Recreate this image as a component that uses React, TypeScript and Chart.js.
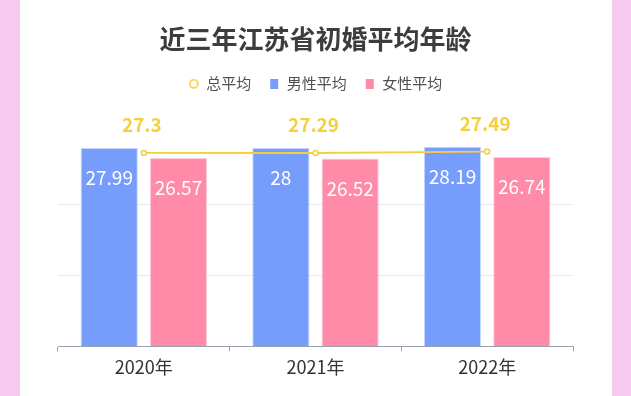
import React, { useEffect, useRef } from "react";
import { Chart, registerables } from "chart.js";

Chart.register(...registerables);

const TITLE = "近三年江苏省初婚平均年龄";
const categories = ["2020年", "2021年", "2022年"];
const totalAvg = [27.3, 27.29, 27.49];
const maleAvg = [27.99, 28, 28.19];
const femaleAvg = [26.57, 26.52, 26.74];
const gridTicks = [0, 10, 20];

const YELLOW = "#f5cf3d";
const BLUE = "#769dfc";
const PINK = "#ff8ba8";
const FONT = "'Noto Sans CJK SC', 'Noto Sans', sans-serif";

function makeIcon(kind: string, color: string): HTMLCanvasElement {
  const c = document.createElement("canvas");
  c.width = 10;
  c.height = 10;
  const g = c.getContext("2d")!;
  if (kind === "circle") {
    g.strokeStyle = color;
    g.lineWidth = 1.6;
    g.beginPath();
    g.arc(5, 5, 4, 0, Math.PI * 2);
    g.stroke();
  } else {
    g.fillStyle = color;
    g.fillRect(1, 0, 8, 10);
  }
  return c;
}

const labelPlugin = {
  id: "valueLabels",
  afterDatasetsDraw(chart: any) {
    const ctx = chart.ctx;
    ctx.save();
    chart.data.datasets.forEach((ds: any, i: number) => {
      const meta = chart.getDatasetMeta(i);
      meta.data.forEach((el: any, j: number) => {
        const v = ds.data[j];
        ctx.textAlign = "center";
        ctx.textBaseline = "middle";
        if (ds.type === "line") {
          ctx.fillStyle = YELLOW;
          ctx.font = `bold 19px ${FONT}`;
          ctx.fillText(String(v), el.x - 2, el.y - 28);
        } else {
          ctx.fillStyle = "#ffffff";
          ctx.font = `19px ${FONT}`;
          ctx.fillText(String(v), el.x, el.y + 30);
        }
      });
    });
    ctx.restore();
  },
};

function ChartView() {
  const ref = useRef<HTMLCanvasElement | null>(null);
  useEffect(() => {
    if (!ref.current) return;
    const icons = [makeIcon("circle", YELLOW), makeIcon("rect", BLUE), makeIcon("rect", PINK)];
    const chart = new Chart(ref.current, {
      type: "bar",
      data: {
        labels: categories,
        datasets: [
          {
            type: "line",
            label: "总平均",
            data: totalAvg,
            borderColor: YELLOW,
            backgroundColor: "#ffffff",
            borderWidth: 1.8,
            pointRadius: 2.5,
            pointBorderWidth: 1.5,
            pointBackgroundColor: "#ffffff",
            pointBorderColor: YELLOW,
            order: 0,
          } as any,
          {
            type: "bar",
            label: "男性平均",
            data: maleAvg,
            backgroundColor: BLUE,
            borderColor: "rgba(190,210,255,0.9)",
            borderWidth: 1,
            categoryPercentage: 0.807,
            barPercentage: 0.826,
            order: 1,
          },
          {
            type: "bar",
            label: "女性平均",
            data: femaleAvg,
            backgroundColor: PINK,
            borderColor: "rgba(255,200,215,0.9)",
            borderWidth: 1,
            categoryPercentage: 0.807,
            barPercentage: 0.826,
            order: 1,
          },
        ],
      },
      options: {
        animation: false,
        responsive: false,
        maintainAspectRatio: false,
        layout: { padding: { left: 58, right: 58, top: 0, bottom: 13 } },
        plugins: {
          tooltip: { enabled: false },
          title: {
            display: true,
            text: TITLE,
            color: "#3d3d3d",
            font: { family: FONT, size: 26, weight: "bold" },
            padding: { top: 24, bottom: 3 },
          },
          legend: {
            display: true,
            labels: {
              usePointStyle: true,
              boxWidth: 10,
              boxHeight: 10,
              padding: 18,
              color: "#505050",
              font: { family: FONT, size: 15 },
              generateLabels: (ch: any) => {
                const items = Chart.defaults.plugins.legend.labels.generateLabels(ch);
                items.forEach((it: any, k: number) => {
                  it.pointStyle = icons[k];
                });
                return items;
              },
            },
          },
        },
        scales: {
          x: {
            grid: {
              display: true,
              drawOnChartArea: false,
              drawTicks: true,
              tickLength: 5,
              color: "#9aa1b0",
              offset: true,
            },
            border: { display: true, color: "#9aa1b0", width: 1 },
            ticks: {
              color: "#333333",
              padding: 5,
              font: { family: FONT, size: 18 },
            },
          },
          y: {
            min: 0,
            max: 34.6,
            afterBuildTicks: (axis: any) => {
              axis.ticks = gridTicks.map((v) => ({ value: v }));
            },
            ticks: { display: false },
            border: { display: false },
            grid: { color: "#e4eaf3", drawTicks: false, lineWidth: 1 },
          },
        },
      },
      plugins: [labelPlugin],
    });
    return () => chart.destroy();
  }, []);
  return <canvas ref={ref} width={631} height={396} style={{ display: "block", width: 631, height: 396 }} />;
}

export default function App() {
  return (
    <div style={{ position: "fixed", left: 0, top: 0, width: 631, height: 396, background: "#f6cbef" }}>
      <div style={{ position: "absolute", left: 20, top: 0, width: 592, height: 396, background: "#ffffff" }} />
      <div style={{ position: "absolute", left: 0, top: 0, width: 631, height: 396 }}>
        <ChartView />
      </div>
    </div>
  );
}
